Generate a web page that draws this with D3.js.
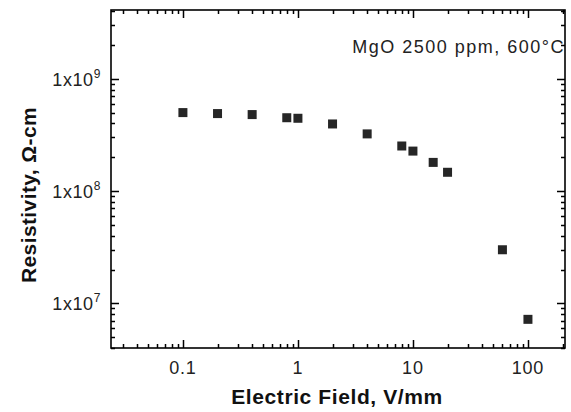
<!DOCTYPE html>
<html>
<head>
<meta charset="utf-8">
<script src="https://cdn.jsdelivr.net/npm/d3@7"></script>
<style>
  body { margin: 0; background: #fff; }
  text { font-family: "Liberation Sans", Arial, sans-serif; }
</style>
</head>
<body>
<svg id="chart" width="571" height="412"></svg>
<script>
// data
let field = [0.1, 0.2, 0.4, 0.8, 1.0, 2, 4, 8, 10, 15, 20, 60, 100];
let resistivity = [5.0e8, 4.9e8, 4.8e8, 4.5e8, 4.45e8, 3.96e8, 3.23e8, 2.52e8, 2.27e8, 1.8e8, 1.47e8, 3.0e7, 7.2e6];
let xTicks = [0.1, 1, 10, 100];
let xTickLabels = ["0.1", "1", "10", "100"];
let yTicks = [1e7, 1e8, 1e9];
let yExponents = ["7", "8", "9"];

let svg = d3.select("#chart");
let plotL = 111, plotR = 565, plotT = 10, plotB = 348;

let x = d3.scaleLog().domain([0.0237, 210]).range([plotL, plotR]);
let y = d3.scaleLog().domain([4.0e6, 4.1e9]).range([plotB, plotT]);

// minor ticks from the scales
let xMinor = x.ticks().filter(d => !xTicks.includes(d));
let yMinor = y.ticks().filter(d => !yTicks.includes(d));

// frame
svg.append("rect")
  .attr("x", plotL).attr("y", plotT)
  .attr("width", plotR - plotL).attr("height", plotB - plotT)
  .attr("fill", "none").attr("stroke", "#000").attr("stroke-width", 1.6);

// inward ticks on all four sides
let tickG = svg.append("g");

function tickLines(vals, len, horizontal) {
  vals.forEach(d => {
    if (horizontal) {
      let px = Math.round(x(d)) + 0.5;
      tickG.append("path").attr("d", `M${px},${plotB}V${plotB - len}M${px},${plotT}V${plotT + len}`);
    } else {
      let py = Math.round(y(d)) + 0.5;
      tickG.append("path").attr("d", `M${plotL},${py}H${plotL + len}M${plotR},${py}H${plotR - len}`);
    }
  });
}
tickLines(xTicks, 8, true);
tickLines(xMinor, 4, true);
tickLines(yTicks, 8, false);
tickLines(yMinor, 4, false);
tickG.selectAll("path")
  .style("stroke", "#000")
  .style("stroke-width", "1.5px")
  .style("fill", "none");

// x tick labels
svg.selectAll(".xlab")
  .data(xTicks)
  .enter()
  .append("text")
  .attr("x", d => x(d))
  .attr("y", plotB + 26)
  .attr("text-anchor", "middle")
  .attr("font-size", 18)
  .attr("letter-spacing", 0.8)
  .attr("fill", "#222")
  .text((d, i) => xTickLabels[i]);

// y tick labels
let ylab = svg.selectAll(".ylab")
  .data(yTicks)
  .enter()
  .append("text")
  .attr("x", plotL - 10)
  .attr("y", d => y(d) + 7)
  .attr("text-anchor", "end")
  .attr("font-size", 18)
  .attr("letter-spacing", 0.6)
  .attr("fill", "#222");
ylab.append("tspan").text("1x10");
ylab.append("tspan")
  .attr("dy", -8)
  .attr("font-size", 12)
  .text((d, i) => yExponents[i]);

// points
svg.selectAll(".pt")
  .data(field)
  .enter()
  .append("rect")
  .attr("x", d => x(d) - 4.5)
  .attr("y", (d, i) => y(resistivity[i]) - 4.5)
  .attr("width", 9)
  .attr("height", 9)
  .attr("fill", "#262626");

// annotation
svg.append("text")
  .attr("x", plotR)
  .attr("y", 53)
  .attr("text-anchor", "end")
  .attr("font-size", 18)
  .attr("letter-spacing", 1.5)
  .attr("fill", "#222")
  .text("MgO 2500 ppm, 600°C");

// axis titles
svg.append("text")
  .attr("x", 337)
  .attr("y", 404)
  .attr("text-anchor", "middle")
  .attr("font-size", 21)
  .attr("font-weight", "bold")
  .attr("letter-spacing", 0.6)
  .attr("fill", "#111")
  .text("Electric Field, V/mm");

svg.append("text")
  .attr("transform", "translate(36,195) rotate(-90)")
  .attr("text-anchor", "middle")
  .attr("font-size", 21)
  .attr("font-weight", "bold")
  .attr("letter-spacing", 0.4)
  .attr("fill", "#111")
  .text("Resistivity, Ω-cm");
</script>
</body>
</html>
